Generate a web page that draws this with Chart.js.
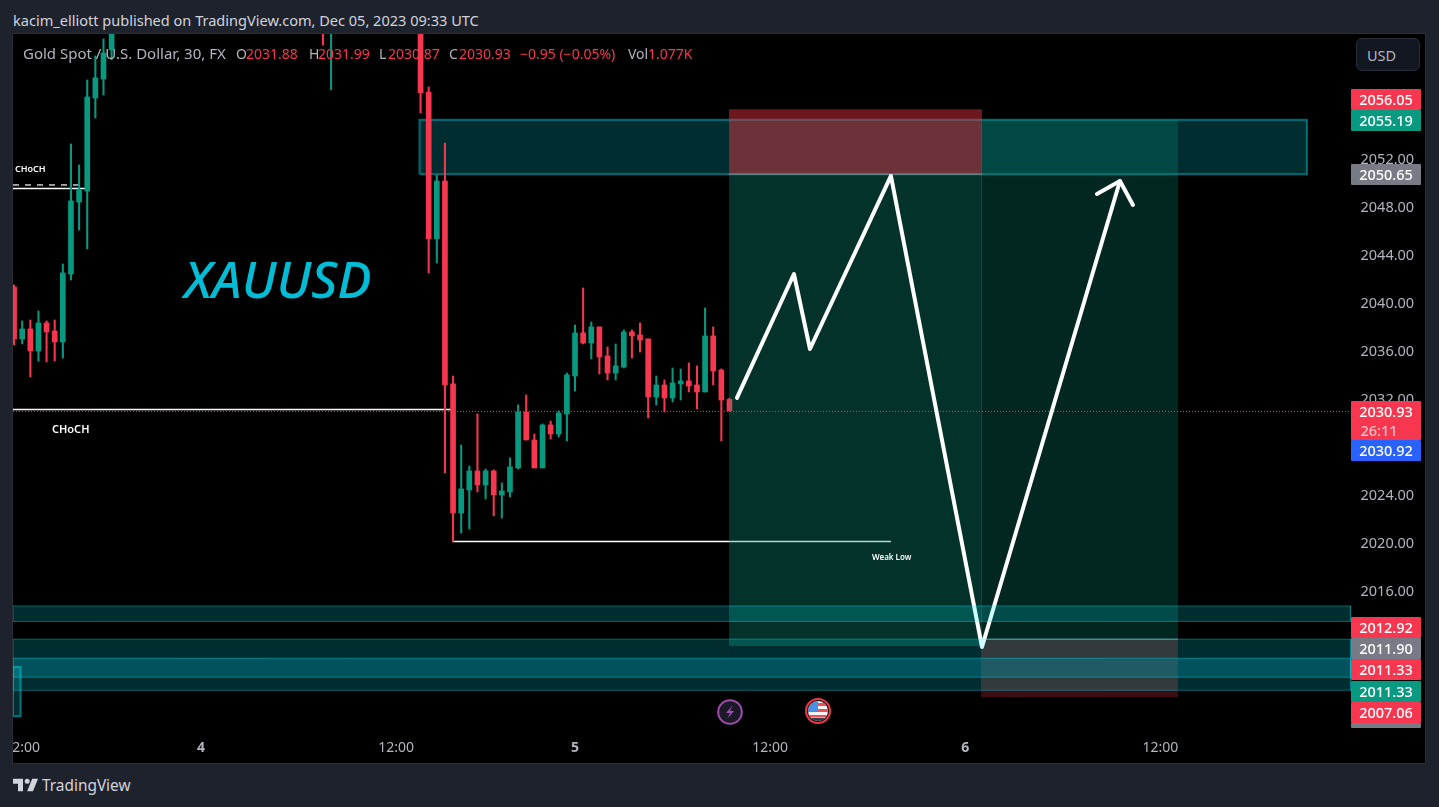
<!DOCTYPE html>
<html><head><meta charset="utf-8">
<script src="https://cdn.jsdelivr.net/npm/chart.js@4"></script>
<style>
html,body{margin:0;padding:0;width:1439px;height:807px;overflow:hidden;background:#1e222d;font-family:"Noto Sans",sans-serif}
#plot{position:absolute;left:13px;top:34px;width:1412px;height:729px;background:#000}
canvas{position:absolute;left:0;top:0}
.ov{position:absolute;white-space:nowrap}
.mask{position:absolute;background:#1e222d}
.edge{position:absolute;background:#2a2e39}
.tag{position:absolute;left:1351px;width:70px;color:#fff;font-size:14.5px;font-weight:500;text-align:center;border-radius:1px}
.lg{position:absolute;top:44px;font-size:14px;line-height:19px;white-space:nowrap;color:#b2b5be}
.r{color:#f7374f}
</style></head><body>
<div id="plot"></div>
<canvas id="c" width="1439" height="807"></canvas>
<div class="mask" style="left:0;top:0;width:12px;height:807px"></div>
<div class="mask" style="left:0;top:0;width:1439px;height:33px"></div>
<div class="mask" style="left:1426px;top:0;width:13px;height:807px"></div>
<div class="mask" style="left:0;top:764px;width:1439px;height:43px"></div>
<div class="edge" style="left:12px;top:33px;width:1414px;height:1px"></div>
<div class="edge" style="left:12px;top:763px;width:1414px;height:1px"></div>
<div class="edge" style="left:12px;top:33px;width:1px;height:731px"></div>
<div class="edge" style="left:1425px;top:33px;width:1px;height:731px"></div>

<div class="ov" id="pub" style="left:13px;top:10px;font-size:14.55px;line-height:20px;color:#d1d4dc">kacim_elliott published on TradingView.com, Dec 05, 2023 09:33 UTC</div>

<div class="lg" style="left:23px;font-size:15px">Gold Spot / U.S. Dollar, 30, FX</div>
<div class="lg" style="left:236px">O</div><div class="lg r" style="left:246px">2031.88</div>
<div class="lg" style="left:309px">H</div><div class="lg r" style="left:318px">2031.99</div>
<div class="lg" style="left:379px">L</div><div class="lg r" style="left:388px">2030.87</div>
<div class="lg" style="left:449px">C</div><div class="lg r" style="left:459px">2030.93</div>
<div class="lg r" style="left:520px">−0.95 (−0.05%)</div>
<div class="lg" style="left:628px">Vol</div><div class="lg r" style="left:648px">1.077K</div>

<div class="ov" style="left:184px;top:245px;font-size:51px;line-height:66px;font-style:italic;font-weight:500;color:#00bcd4">XAUUSD</div>
<div class="ov" style="left:15px;top:163px;font-size:9px;line-height:12px;color:#fff;font-weight:600">CHoCH</div>
<div class="ov" style="left:52px;top:421px;font-size:11px;line-height:15px;color:#fff;font-weight:600">CHoCH</div>
<div class="ov" style="left:872px;top:551px;font-size:8px;line-height:12px;color:#fff;font-weight:600">Weak Low</div>

<div class="ov" style="left:1356px;top:38px;width:62px;height:31px;background:#131722;border:1px solid #2a2e39;border-radius:6px;color:#b2b5be;font-size:14.5px;line-height:33px;text-indent:10px">USD</div>

<div class="tag" style="top:723px;height:5px;background:#787b86"></div>
<div class="tag" style="top:89px;height:21px;line-height:21px;background:#f7374f">2056.05</div>
<div class="tag" style="top:110px;height:21px;line-height:21px;background:#089981">2055.19</div>
<div class="tag" style="top:164px;height:21px;line-height:21px;background:#787b86">2050.65</div>
<div class="tag" style="top:401px;height:39px;background:#f7374f;line-height:20px">2030.93<br><span style="color:#fcc0c6;position:relative;left:-7px;top:-1px">26:11</span></div>
<div class="tag" style="top:440px;height:21px;line-height:21px;background:#2962ff">2030.92</div>
<div class="tag" style="top:617px;height:21px;line-height:21px;background:#f7374f">2012.92</div>
<div class="tag" style="top:638px;height:21px;line-height:21px;background:#787b86">2011.90</div>
<div class="tag" style="top:659px;height:21px;line-height:21px;background:#f7374f">2011.33</div>
<div class="tag" style="top:681px;height:21px;line-height:21px;background:#089981">2011.33</div>
<div class="tag" style="top:702px;height:21px;line-height:21px;background:#f7374f">2007.06</div>

<svg class="ov" style="left:716px;top:698px" width="28" height="28" viewBox="0 0 28 28"><circle cx="14" cy="14" r="11.8" fill="#1a1a26" stroke="#a44bb0" stroke-width="2"/><path d="M16.5 7.5 L10 15 H14 L11.5 20.5 L18 13 H14 Z" fill="#a44bb0"/></svg>
<svg class="ov" style="left:804px;top:697px" width="28" height="28" viewBox="0 0 28 28"><defs><clipPath id="cl"><circle cx="14" cy="14" r="10"/></clipPath></defs><circle cx="14" cy="14" r="12" fill="#111" stroke="#f23645" stroke-width="2"/><g clip-path="url(#cl)"><rect x="4" y="4" width="20" height="20" fill="#f5f5f5"/><rect x="4" y="6" width="20" height="3" fill="#e8505b"/><rect x="4" y="12" width="20" height="3" fill="#e8505b"/><rect x="4" y="18" width="20" height="2.5" fill="#e8505b"/><rect x="4" y="21" width="20" height="3" fill="#333a45"/><rect x="4" y="4" width="10" height="10" fill="#4a90e2"/></g></svg>

<svg class="ov" style="left:13px;top:777px" width="25" height="16" viewBox="2 5 30 17"><path fill="#d1d4dc" d="M14 6H2v6h6v9h6V6Zm12 15h-7l6-15h7l-6 15Zm-7-9a3 3 0 1 0 0-6 3 3 0 0 0 0 6Z"/></svg>
<div class="ov" style="left:42px;top:775px;font-size:15.4px;line-height:22px;color:#d1d4dc">TradingView</div>

<script>
// ---- candles: bar number relative to the latest bar (30-minute bars), prices in USD ----
const candleIndex=[-88,-87,-86,-85,-84,-83,-82,-81,-80,-79,-78,-77,-76,-50,-49,-38,-37,-36,-35,-34,-33,-32,-31,-30,-29,-28,-27,-26,-25,-24,-23,-22,-21,-20,-19,-18,-17,-16,-15,-14,-13,-12,-11,-10,-9,-8,-7,-6,-5,-4,-3,-2,-1,0];
const candleOpen=[2041.25,2036.92,2037.75,2035.92,2038.25,2037.58,2036.67,2042.33,2048.33,2049.25,2057.0,2058.58,2061.0,2065.0,2063.0,2065.0,2057.5,2045.27,2050.08,2033.17,2022.42,2024.33,2025.92,2024.75,2025.92,2023.92,2024.17,2026.17,2030.83,2028.5,2026.17,2029.75,2029.0,2030.67,2033.83,2037.42,2036.58,2037.92,2035.5,2034.08,2034.58,2037.5,2037.25,2036.92,2032.08,2033.08,2032.0,2033.17,2033.42,2033.08,2032.5,2037.17,2034.33,2031.88];
const candleClose=[2036.92,2037.75,2035.92,2038.25,2037.5,2036.67,2042.42,2048.42,2049.33,2057.08,2058.67,2060.75,2064.0,2063.0,2064.0,2057.44,2045.27,2050.08,2033.08,2022.42,2024.42,2025.92,2024.75,2025.92,2023.92,2024.25,2026.25,2030.83,2028.5,2026.17,2029.75,2029.0,2030.75,2033.92,2037.42,2036.58,2037.92,2035.42,2034.08,2034.67,2037.5,2037.17,2036.83,2032.08,2033.08,2032.0,2033.25,2033.42,2033.0,2032.5,2037.17,2034.25,2031.83,2030.93];
const candleHigh=[2041.42,2038.42,2038.5,2039.25,2038.42,2038.5,2043.17,2053.17,2051.42,2058.5,2060.5,2061.92,2065.0,2066.0,2065.0,2066.0,2057.92,2050.58,2053.25,2033.83,2028.08,2026.33,2030.67,2026.08,2026.0,2024.92,2027.0,2031.42,2032.25,2029.0,2029.83,2030.08,2030.92,2034.08,2038.08,2041.17,2038.33,2037.92,2036.25,2036.5,2037.67,2037.67,2038.25,2036.92,2033.83,2033.5,2034.5,2034.42,2034.92,2034.67,2039.5,2037.92,2034.42,2031.99];
const candleLow=[2036.42,2036.5,2033.75,2035.08,2035.0,2035.08,2035.33,2041.83,2046.0,2044.42,2055.33,2057.25,2060.17,2061.4,2057.67,2055.75,2042.42,2043.25,2025.75,2020.03,2020.75,2021.08,2024.17,2023.58,2022.17,2022.0,2023.75,2026.08,2028.5,2026.17,2026.17,2028.58,2028.75,2028.42,2032.58,2036.5,2035.25,2034.0,2033.5,2033.5,2034.5,2035.33,2035.83,2030.33,2031.42,2030.83,2031.67,2031.83,2032.5,2031.08,2032.5,2033.08,2028.42,2030.87];

// ---- value axis and time axis ----
const priceTicks=[2008,2012,2016,2020,2024,2028,2032,2036,2040,2044,2048,2052,2056,2060];
const timeTickBars=[-87,-65,-41,-19,5,29,53];
const timeTickLabels=["12:00","4","12:00","5","12:00","6","12:00"];

// ---- supply zone at the top (sits under the candles and the position tools) ----
const topZoneStart=-38.13, topZoneEnd=71.03, topZoneLow=2050.65, topZoneHigh=2055.19;

// ---- demand zones at the bottom (sit over everything) ----
const zoneStart=[-88.13,-88.13,-88.13,-88.13];
const zoneEnd=[76.45,76.45,76.45,-87.2];
const zoneLow=[2013.38,2007.64,2008.73,2005.48];
const zoneHigh=[2014.67,2011.9,2010.31,2009.58];

// ---- position tools (target / stop areas) ----
const toolStart=[-0.06,-0.06,30.93,30.93];
const toolEnd=[31.06,31.06,55.17,55.17];
const toolLow=[2011.33,2050.65,2011.9,2007.06];
const toolHigh=[2050.65,2056.05,2055.19,2011.9];
const entryPrices=[2050.65,2011.9];

// ---- drawn projection path and reference levels ----
const pathBars=[0.92,7.93,9.9,19.86,31.06,48.03];
const pathPrices=[2032.0,2042.33,2036.08,2050.5,2011.25,2050.08];
const arrowBars=[45.2,48.03,49.63];
const arrowPrices=[2049.0,2050.08,2048.08];
const chochLevelBars=[-88.13,-34.13];
const chochLevelPrices=[2031.04,2031.04];
const chochUpperBars=[-88.13,-79.27];
const chochUpperPrices=[2049.46,2049.46];
const chochDashPrices=[2049.75,2049.75];
const weakLowBars=[-34.13,19.86];
const weakLowPrices=[2020.04,2020.04];
const lastPriceBars=[-88.13,76.45];
const lastPricePrices=[2030.88,2030.88];

const RED="#f7374f",GREEN="#089981",WHITE="#ffffff";
const zoneFill=["rgba(0,242,255,.19)","rgba(0,242,255,.19)","rgba(0,160,186,.33)","rgba(0,242,255,.19)"];
const zoneEdge=["rgba(0,242,255,.36)","rgba(0,242,255,.36)","rgba(0,242,255,.36)","rgba(0,200,215,.55)"];
const zoneEdgeWidth=[1,1,1,2];
const toolFill=["rgba(8,153,129,.33)","rgba(242,54,69,.45)","rgba(8,153,129,.25)","rgba(242,54,69,.25)"];

const pts=(xs,ys)=>xs.map((x,i)=>({x,y:ys[i]}));
const line=(xs,ys,color,width,extra={})=>Object.assign({type:"line",data:pts(xs,ys),borderColor:color,borderWidth:width,pointRadius:0,tension:0,fill:false},extra);
const area=(x1,x2,lo,hi,color)=>({type:"line",data:pts([x1,x2],[hi,hi]),borderWidth:0,borderColor:"rgba(0,0,0,0)",backgroundColor:color,pointRadius:0,tension:0,fill:{target:{value:lo}}});
const box=(x1,x2,lo,hi,color,width)=>line([x1,x1,x2,x2,x1],[lo,hi,hi,lo,lo],color,width);

const datasets=[];
datasets.push(area(topZoneStart,topZoneEnd,topZoneLow,topZoneHigh,"rgba(0,242,255,.19)"));
datasets.push(box(topZoneStart,topZoneEnd,topZoneLow,topZoneHigh,"rgba(0,230,245,.42)",2));
datasets.push(line(lastPriceBars,lastPricePrices,RED,1,{borderDash:[1,2]}));
datasets.push(line(chochLevelBars,chochLevelPrices,WHITE,1.5));
datasets.push(line(chochUpperBars,chochUpperPrices,WHITE,1.5));
datasets.push(line(chochUpperBars,chochDashPrices,"#cccccc",1.5,{borderDash:[6,6]}));
datasets.push(line(weakLowBars,weakLowPrices,WHITE,1.5));
datasets.push({type:"bar",data:candleIndex.map((b,i)=>({x:b,y:[candleLow[i],candleHigh[i]]})),backgroundColor:candleIndex.map((b,i)=>candleClose[i]>=candleOpen[i]?GREEN:RED),barThickness:1.4,grouped:false,borderWidth:0});
datasets.push({type:"bar",data:candleIndex.map((b,i)=>({x:b,y:[Math.min(candleOpen[i],candleClose[i]),Math.max(candleOpen[i],candleClose[i])]})),backgroundColor:candleIndex.map((b,i)=>candleClose[i]>=candleOpen[i]?GREEN:RED),barThickness:5,grouped:false,borderWidth:0});
toolStart.forEach((s,i)=>datasets.push(area(s,toolEnd[i],toolLow[i],toolHigh[i],toolFill[i])));
datasets.push(line([toolStart[0],toolEnd[0]],[entryPrices[0],entryPrices[0]],"rgba(150,153,165,.8)",1));
datasets.push(line([toolStart[2],toolEnd[2]],[entryPrices[1],entryPrices[1]],"rgba(150,153,165,.8)",1));
datasets.push(line(pathBars,pathPrices,WHITE,4,{borderJoinStyle:"round",borderCapStyle:"round"}));
datasets.push(line(arrowBars,arrowPrices,WHITE,4,{borderJoinStyle:"round",borderCapStyle:"round"}));
zoneStart.forEach((s,i)=>{
  datasets.push(area(s,zoneEnd[i],zoneLow[i],zoneHigh[i],zoneFill[i]));
  datasets.push(box(s,zoneEnd[i],zoneLow[i],zoneHigh[i],zoneEdge[i],zoneEdgeWidth[i]));
});
datasets.forEach((d,i)=>{d.order=datasets.length-i;});

new Chart(document.getElementById("c"),{
  data:{datasets},
  options:{
    responsive:false,animation:false,devicePixelRatio:1,
    layout:{padding:{left:13,right:14,top:34,bottom:44}},
    plugins:{legend:{display:false},tooltip:{enabled:false}},
    scales:{
      x:{type:"linear",offset:false,min:-88.13,max:76.45,grid:{display:false},border:{display:false},
        afterBuildTicks(s){s.ticks=timeTickBars.map(v=>({value:v}));},
        afterFit(s){s.height=36;s.paddingLeft=0;s.paddingRight=0;},
        ticks:{autoSkip:false,maxRotation:0,color:"#b2b5be",padding:5,
          font:c=>({family:'"Noto Sans"',size:14,weight:(c.index%2===1&&c.index<6)?"bold":"normal"}),
          callback:(v,i)=>timeTickLabels[i]}},
      y:{type:"linear",position:"right",min:2004.58,max:2062.33,grid:{display:false},border:{display:false},
        afterBuildTicks(s){s.ticks=priceTicks.map(v=>({value:v}));},
        afterFit(s){s.width=74;s.paddingTop=0;s.paddingBottom=0;},
        ticks:{color:"#b2b5be",padding:1.5,labelOffset:1.5,font:{family:'"Noto Sans"',size:14.5},callback:v=>v.toFixed(2)}}
    }
  }
});
</script>
</body></html>
